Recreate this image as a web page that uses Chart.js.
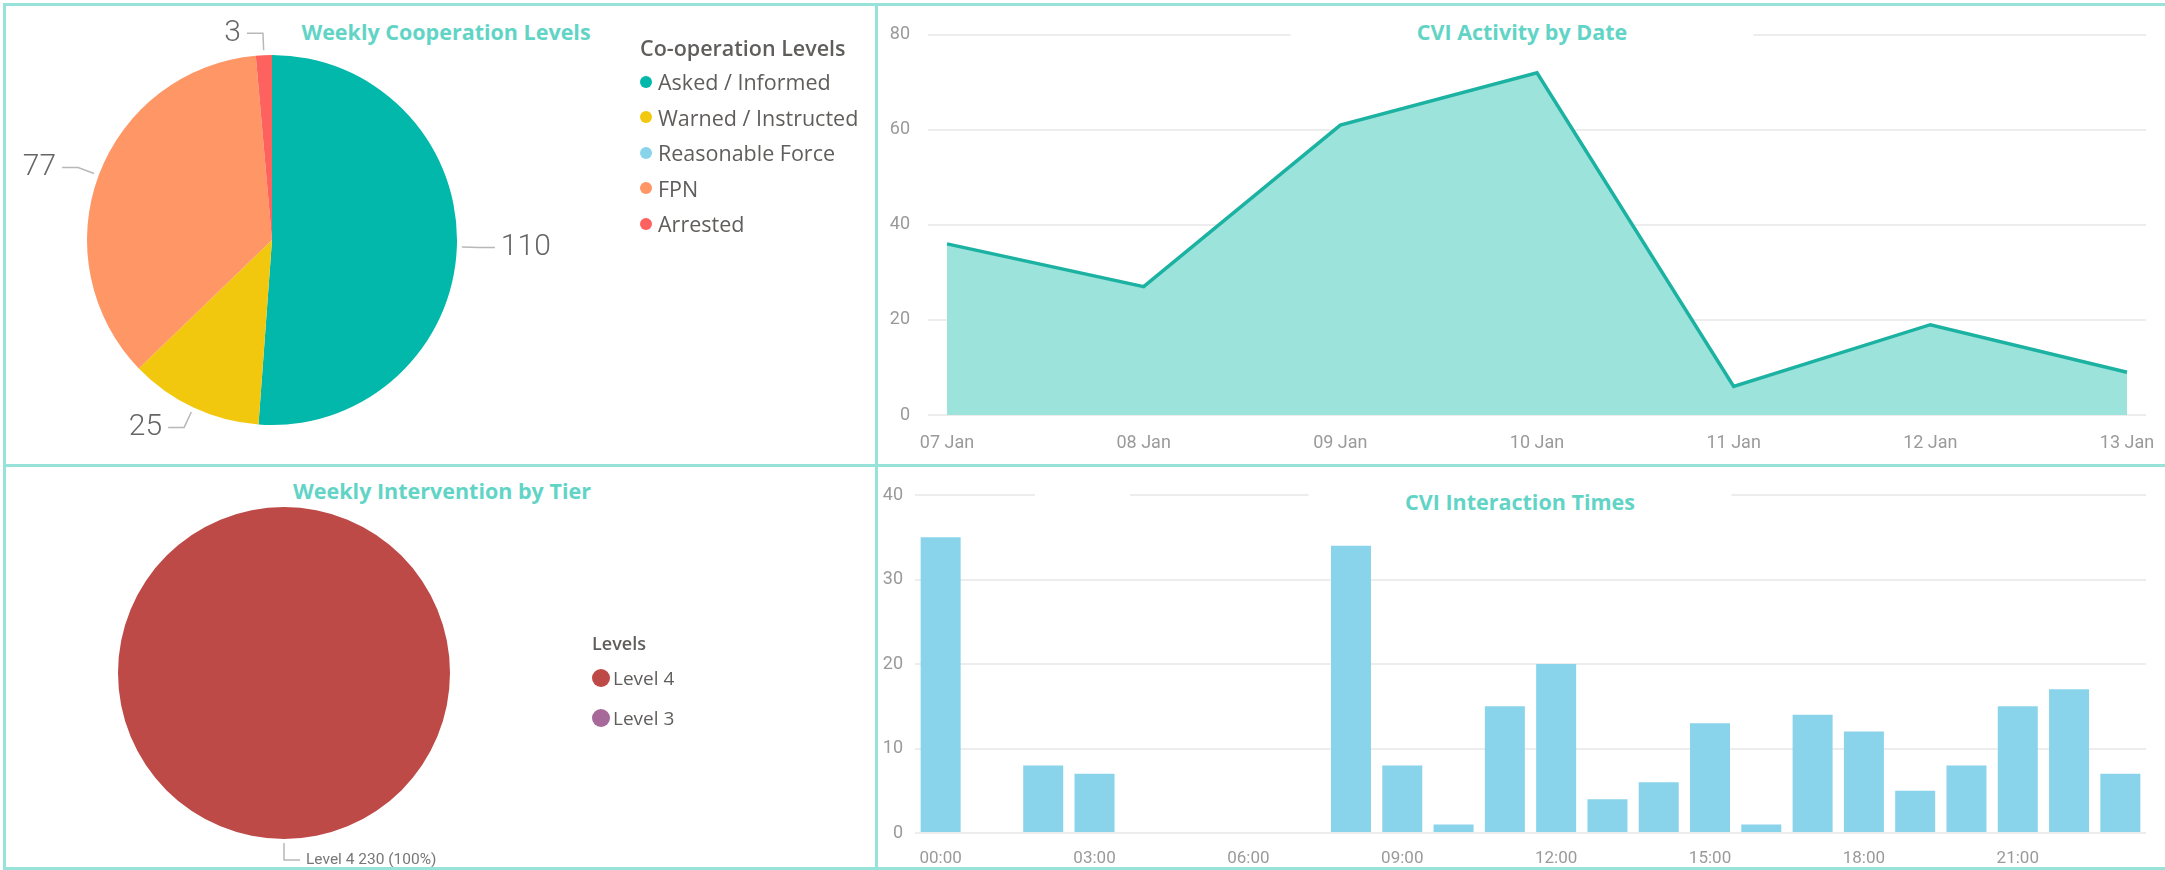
<!DOCTYPE html>
<html>
<head>
<meta charset="utf-8">
<script src="https://cdn.jsdelivr.net/npm/chart.js@4.4.0/dist/chart.umd.min.js"></script>
<style>
  body { margin:0; width:2165px; height:870px; background:#fff; position:relative; overflow:hidden; font-family:"Open Sans", sans-serif; }
  .panel { position:absolute; box-sizing:border-box; border:3px solid #97e3d9; }
  canvas { position:absolute; }
  .title { position:absolute; background:#fff; color:#62d4c6; font-weight:700; font-size:21.5px; text-align:center;
           height:30px; line-height:30px; transform:translate(-50%,-50%); white-space:nowrap; z-index:2; }
  .blank { position:absolute; background:#fff; z-index:2; }
  .legend { position:absolute; color:#605e5c; z-index:2; }
  .legend .lt { font-weight:600; }
  .legend .row { display:flex; align-items:center; white-space:nowrap; }
  .legend .dot { border-radius:50%; flex:none; }
</style>
</head>
<body>
<div class="panel" style="left:3px;top:3px;width:875px;height:464px"></div>
<div class="panel" style="left:875px;top:3px;width:1290px;height:464px;border-right:none"></div>
<div class="panel" style="left:3px;top:464px;width:875px;height:406px"></div>
<div class="panel" style="left:875px;top:464px;width:1290px;height:406px;border-right:none"></div>

<canvas id="cCoop" width="868" height="458" style="left:6px;top:6px"></canvas>
<canvas id="cLine" width="1287" height="458" style="left:878px;top:6px"></canvas>
<canvas id="cTier" width="868" height="400" style="left:6px;top:467px"></canvas>
<canvas id="cBar" width="1287" height="400" style="left:878px;top:467px"></canvas>

<div class="title" style="left:446px;top:32px;width:320px">Weekly Cooperation Levels</div>
<div class="title" style="left:1522px;top:32px;width:463px">CVI Activity by Date</div>
<div class="title" style="left:442px;top:491px;width:320px">Weekly Intervention by Tier</div>
<div class="title" style="left:1520px;top:502px;width:423px">CVI Interaction Times</div>
<div class="blank" style="left:1035px;top:490px;width:95px;height:10px"></div>

<div class="legend" id="legCoop" style="left:640px;top:32px"></div>
<div class="legend" id="legTier" style="left:592px;top:628px"></div>

<script>
// weekly cooperation levels (pie)
const coopLevels = ['Asked / Informed', 'Warned / Instructed', 'Reasonable Force', 'FPN', 'Arrested'];
const coopCounts = [110, 25, 0, 77, 3];
const coopColors = ['#01b8aa', '#f2c80f', '#8ad4eb', '#fe9666', '#fd625e'];

// CVI activity by date (area)
const activityDates = ['07 Jan', '08 Jan', '09 Jan', '10 Jan', '11 Jan', '12 Jan', '13 Jan'];
const activityCounts = [36, 27, 61, 72, 6, 19, 9];

// weekly intervention by tier (pie)
const tierLevels = ['Level 4', 'Level 3'];
const tierCounts = [230, 0];
const tierColors = ['#be4a47', '#a66999'];

// CVI interaction times (bars)
const hours = ['00:00', '01:00', '02:00', '03:00', '04:00', '05:00', '06:00', '07:00', '08:00', '09:00', '10:00', '11:00',
               '12:00', '13:00', '14:00', '15:00', '16:00', '17:00', '18:00', '19:00', '20:00', '21:00', '22:00', '23:00'];
const hourCounts = [35, 0, 8, 7, 0, 0, 0, 0, 34, 8, 1, 15, 20, 4, 6, 13, 1, 14, 12, 5, 8, 15, 17, 7];

const tickFont = { family: 'Roboto', size: 18 };
const tickColor = '#9a9a9a';
const gridColor = '#ededed';

// pie labels with leader lines, power bi style
const leaderLabels = {
  id: 'leaderLabels',
  afterDatasetsDraw(chart, args, opts) {
    const ctx = chart.ctx;
    const data = chart.data.datasets[0].data;
    const total = data.reduce((a, b) => a + b, 0);
    chart.getDatasetMeta(0).data.forEach((arc, i) => {
      const v = data[i];
      if (!v) return;
      const mid = (arc.startAngle + arc.endAngle) / 2;
      const c = Math.cos(mid), s = Math.sin(mid);
      const r1 = arc.outerRadius + opts.gap;
      const r2 = r1 + opts.radial;
      const x1 = arc.x + c * r1, y1 = arc.y + s * r1;
      const x2 = arc.x + c * r2, y2 = arc.y + s * r2;
      const dir = c < -0.001 ? -1 : 1;
      const x3 = x2 + dir * opts.horiz;
      ctx.save();
      ctx.strokeStyle = opts.lineColor;
      ctx.lineWidth = 1.5;
      ctx.beginPath();
      ctx.moveTo(x1, y1); ctx.lineTo(x2, y2); ctx.lineTo(x3, y2);
      ctx.stroke();
      ctx.fillStyle = opts.color;
      ctx.font = opts.font;
      ctx.textBaseline = 'middle';
      ctx.textAlign = dir < 0 ? 'right' : 'left';
      let txt = String(v);
      if (opts.mode === 'full') txt = chart.data.labels[i] + ' ' + v + ' (' + Math.round(v / total * 100) + '%)';
      ctx.fillText(txt, x3 + dir * opts.pad, y2);
      ctx.restore();
    });
  }
};

function htmlLegend(el, title, labels, colors, o) {
  let h = '<div class="lt" style="font-size:' + o.titleSize + 'px;height:' + o.titleH + 'px;line-height:' + o.titleH + 'px">' + title + '</div>';
  labels.forEach((l, i) => {
    h += '<div class="row" style="height:' + o.rowH + 'px;font-size:' + o.size + 'px">' +
         '<span class="dot" style="width:' + o.dot + 'px;height:' + o.dot + 'px;background:' + colors[i] + ';margin-right:' + o.gap + 'px"></span>' +
         l + '</div>';
  });
  el.innerHTML = h;
}

htmlLegend(document.getElementById('legCoop'), 'Co-operation Levels', coopLevels, coopColors,
  { titleSize: 21.5, titleH: 32, rowH: 35.5, size: 21.5, dot: 12, gap: 6 });
htmlLegend(document.getElementById('legTier'), 'Levels', tierLevels, tierColors,
  { titleSize: 18, titleH: 30, rowH: 40, size: 19, dot: 18, gap: 3 });

new Chart(document.getElementById('cCoop'), {
  type: 'pie',
  data: { labels: coopLevels, datasets: [{ data: coopCounts, backgroundColor: coopColors, borderWidth: 0 }] },
  options: {
    animation: false, responsive: false,
    layout: { padding: { top: 49, bottom: 39, left: 81, right: 417 } },
    plugins: {
      legend: { display: false }, tooltip: { enabled: false },
      leaderLabels: { gap: 5, radial: 17, horiz: 16, pad: 6, lineColor: '#b8b8b8', color: '#666666', font: '300 30px Roboto', mode: 'value' }
    }
  },
  plugins: [leaderLabels]
});

new Chart(document.getElementById('cTier'), {
  type: 'pie',
  data: { labels: tierLevels, datasets: [{ data: tierCounts, backgroundColor: tierColors, borderWidth: 0 }] },
  options: {
    animation: false, responsive: false,
    layout: { padding: { top: 40, bottom: 28, left: 112, right: 424 } },
    plugins: {
      legend: { display: false }, tooltip: { enabled: false },
      leaderLabels: { gap: 4, radial: 17, horiz: 16, pad: 6, lineColor: '#b8b8b8', color: '#777777', font: '15.5px Roboto', mode: 'full' }
    }
  },
  plugins: [leaderLabels]
});

new Chart(document.getElementById('cLine'), {
  type: 'line',
  data: {
    datasets: [{
      data: activityCounts.map((v, i) => ({ x: i, y: v })),
      borderColor: '#1cb2a2', borderWidth: 3.5, backgroundColor: '#9ce3db',
      fill: 'origin', pointRadius: 0, tension: 0
    }]
  },
  options: {
    animation: false, responsive: false,
    layout: { padding: { top: 26, right: 19, left: 0, bottom: 0 } },
    plugins: { legend: { display: false }, tooltip: { enabled: false } },
    scales: {
      x: {
        type: 'linear', min: -0.0966, max: 6.0966,
        grid: { display: false }, border: { display: false },
        afterBuildTicks: s => { s.ticks = activityDates.map((d, i) => ({ value: i })); },
        afterFit: s => { s.height = 49; },
        ticks: { callback: v => activityDates[v], color: tickColor, font: tickFont, padding: 10, maxRotation: 0, autoSkip: false }
      },
      y: {
        min: 0, max: 80,
        ticks: { stepSize: 20, color: tickColor, font: tickFont, padding: 18 },
        grid: { color: gridColor, lineWidth: 2, drawTicks: false }, border: { display: false },
        afterFit: s => { s.width = 50; }
      }
    }
  }
});

new Chart(document.getElementById('cBar'), {
  type: 'bar',
  data: { labels: hours, datasets: [{ data: hourCounts, backgroundColor: '#8ad4eb', categoryPercentage: 1, barPercentage: 0.78 }] },
  options: {
    animation: false, responsive: false,
    layout: { padding: { top: 28, right: 19 } },
    plugins: { legend: { display: false }, tooltip: { enabled: false } },
    scales: {
      x: {
        grid: { display: false }, border: { display: false },
        afterFit: s => { s.height = 34; },
        ticks: { autoSkip: false, maxRotation: 0, callback: (v, i) => (i % 3 === 0 ? hours[i] : ''),
                 color: tickColor, font: { family: 'Roboto', size: 17 }, padding: 8 }
      },
      y: {
        min: 0, max: 40,
        ticks: { stepSize: 10, color: tickColor, font: tickFont, padding: 12 },
        grid: { color: gridColor, lineWidth: 2, drawTicks: false }, border: { display: false },
        afterFit: s => { s.width = 37; }
      }
    }
  }
});
</script>
</body>
</html>
